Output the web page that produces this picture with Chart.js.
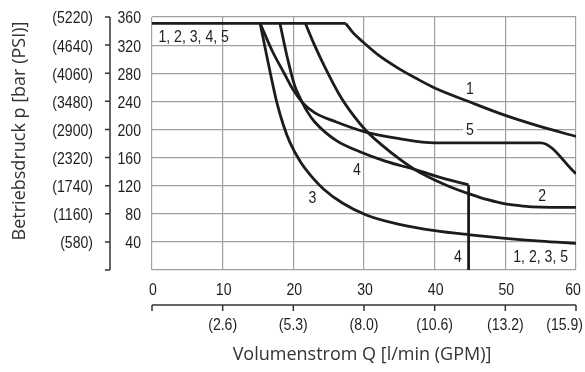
<!DOCTYPE html>
<html>
<head>
<meta charset="utf-8">
<script src="https://cdn.jsdelivr.net/npm/chart.js@4"></script>
<style>
  html, body { margin: 0; padding: 0; background: #fff; }
  #wrap { width: 585px; height: 372px; }
</style>
</head>
<body>
<div id="wrap"><canvas id="chart" width="585" height="372"></canvas></div>
<script>
// axis ticks
const xTicks = [0, 10, 20, 30, 40, 50, 60];
const gpmLabels = ['', '(2.6)', '(5.3)', '(8.0)', '(10.6)', '(13.2)', '(15.9)'];
const yTicks = [0, 40, 80, 120, 160, 200, 240, 280, 320, 360];
const psiLabels = ['', '(580)', '(1160)', '(1740)', '(2320)', '(2900)', '(3480)', '(4060)', '(4640)', '(5220)'];

// curves, Q [l/min] / p [bar]
const curveTop = [[0, 351], [27.4, 351]];
const curve1 = [[27.4, 351], [28.5, 337], [29.9, 324], [32, 306], [34.7, 288], [37.5, 272], [40, 259], [45, 239], [50, 220], [55, 204], [60, 190]];
const curve2 = [[21.7, 351], [23, 320], [24.5, 288], [26.6, 248], [28.5, 220], [30.4, 197], [32.5, 178], [35, 158], [37.5, 141], [40, 128], [42.5, 117], [45, 108], [47.5, 100], [50, 94], [52.5, 91], [55, 89.5], [60, 89]];
const curve3 = [[15.3, 351], [16.5, 292], [17.7, 237], [18.6, 206], [19.5, 182], [21, 154], [22.5, 134], [24.3, 115], [27, 95], [30.4, 78], [35, 65], [40, 56], [45, 50], [50, 45], [55, 41], [60, 38]];
const curve4 = [[18.1, 351], [19.2, 300], [20.2, 262], [21, 244], [22, 225], [23, 211], [26.1, 184], [29.5, 168], [33, 155], [37.5, 142], [41, 131], [44.8, 121]];
const curve4Drop = [[44.8, 121], [44.8, 0]];
const curve5 = [[15.3, 351], [17, 312], [18.7, 280], [20, 256], [21.4, 237], [23, 224], [26, 211], [30, 197], [35, 187], [40, 181], [55, 181], [60, 137]];

// curve labels: text, Q, p
const curveLabels = [
  ['1, 2, 3, 4, 5', 5.9, 331],
  ['1', 45, 256],
  ['5', 45, 199],
  ['4', 29, 142],
  ['3', 22.7, 102],
  ['2', 55.2, 104],
  ['4', 43.3, 17],
  ['1, 2, 3, 5', 55, 17]
];
const whiteBgLabels = ['5'];

const tickFont = '16px "Liberation Sans", Arial, sans-serif';
const squeeze = 0.88;
const textColor = '#1e1e1e';
const gridColor = '#a0a0a0';
const lineColor = '#1c1c1c';

function toPoints(arr) {
  return arr.map(([x, y]) => ({ x, y }));
}

function lineSet(arr) {
  return {
    data: toPoints(arr),
    borderColor: lineColor,
    borderWidth: 2.8,
    pointRadius: 0,
    cubicInterpolationMode: 'monotone',
    fill: false
  };
}

// condensed text: the original uses a narrow face
function narrowText(ctx, t, x, y, align) {
  ctx.save();
  ctx.translate(x, y);
  ctx.scale(squeeze, 1);
  ctx.textAlign = align;
  ctx.fillText(t, 0, 0);
  ctx.restore();
}

const axesPlugin = {
  id: 'axesPlugin',
  afterDraw(chart) {
    const ctx = chart.ctx;
    const xs = chart.scales.x;
    const ys = chart.scales.y;
    ctx.save();

    // curve labels
    ctx.font = tickFont;
    ctx.textBaseline = 'middle';
    curveLabels.forEach(([t, q, p]) => {
      const px = xs.getPixelForValue(q);
      const py = ys.getPixelForValue(p);
      if (whiteBgLabels.includes(t)) {
        const w = ctx.measureText(t).width * squeeze + 6;
        ctx.fillStyle = '#fff';
        ctx.fillRect(px - w / 2, py - 4, w, 8);
      }
      ctx.fillStyle = textColor;
      narrowText(ctx, t, px, py, 'center');
    });

    // left axis
    const axX = 110;
    ctx.strokeStyle = '#333';
    ctx.lineWidth = 1.5;
    ctx.beginPath();
    ctx.moveTo(axX, ys.getPixelForValue(0));
    ctx.lineTo(axX, ys.getPixelForValue(360));
    yTicks.forEach(v => {
      const py = ys.getPixelForValue(v);
      ctx.moveTo(axX - 5, py);
      ctx.lineTo(axX, py);
    });
    ctx.stroke();

    ctx.fillStyle = textColor;
    yTicks.forEach((v, i) => {
      if (v === 0) return;
      const py = ys.getPixelForValue(v) + 2;
      narrowText(ctx, String(v), 141, py, 'right');
      narrowText(ctx, psiLabels[i], 93, py, 'right');
    });

    // bottom axis
    const axY = 305;
    ctx.beginPath();
    ctx.moveTo(xs.getPixelForValue(0), axY);
    ctx.lineTo(xs.getPixelForValue(60), axY);
    xTicks.forEach(v => {
      const px = xs.getPixelForValue(v);
      ctx.moveTo(px, axY);
      ctx.lineTo(px, axY + 6);
    });
    ctx.stroke();

    xTicks.forEach((v, i) => {
      const px = xs.getPixelForValue(v);
      narrowText(ctx, String(v), v === 60 ? px - 3 : px + 1, 291, 'center');
      if (gpmLabels[i]) {
        if (v === 60) narrowText(ctx, gpmLabels[i], 583, 326, 'right');
        else narrowText(ctx, gpmLabels[i], px, 326, 'center');
      }
    });

    // axis titles
    ctx.font = '18px "Open Sans", sans-serif';
    ctx.fillStyle = '#333';
    ctx.textAlign = 'center';
    ctx.fillText('Volumenstrom Q [l/min (GPM)]', 362, 355);
    ctx.translate(20, 131);
    ctx.rotate(-Math.PI / 2);
    ctx.fillText('Betriebsdruck p [bar (PSI)]', 0, 0);
    ctx.restore();
  }
};

new Chart(document.getElementById('chart'), {
  type: 'line',
  data: {
    datasets: [
      lineSet(curveTop),
      lineSet(curve1),
      lineSet(curve2),
      lineSet(curve3),
      lineSet(curve4),
      lineSet(curve4Drop),
      lineSet(curve5)
    ]
  },
  options: {
    responsive: false,
    animation: false,
    layout: { padding: { left: 152, right: 9, top: 17, bottom: 102 } },
    plugins: { legend: { display: false }, tooltip: { enabled: false } },
    scales: {
      x: {
        type: 'linear',
        min: 0,
        max: 60,
        ticks: { display: false, stepSize: 10 },
        grid: { color: gridColor, lineWidth: 1.2, drawTicks: false, tickLength: 0 },
        border: { display: false }
      },
      y: {
        type: 'linear',
        min: 0,
        max: 360,
        ticks: { display: false, stepSize: 40 },
        grid: { color: gridColor, lineWidth: 1.2, drawTicks: false, tickLength: 0 },
        border: { display: false }
      }
    }
  },
  plugins: [axesPlugin]
});
</script>
</body>
</html>
